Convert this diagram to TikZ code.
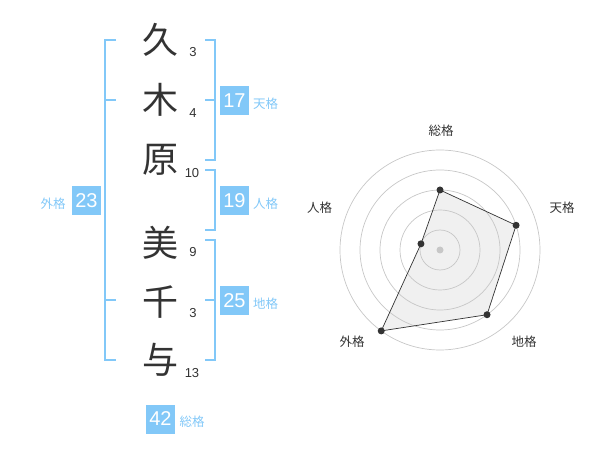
\documentclass[tikz,border=0pt]{standalone}
\usepackage{fontspec}
\setmainfont{Liberation Sans}
\newfontfamily\cjk{Noto Sans CJK JP}
\definecolor{kakublue}{HTML}{82C8F8}
\definecolor{inkgray}{HTML}{333333}
\begin{document}
\begin{tikzpicture}[x=1pt, y=-1pt,
        kanji/.style={inner sep=0pt, text=inkgray, font=\cjk\fontsize{36}{36}\selectfont},
        stroke/.style={inner sep=0pt, text=inkgray, font=\fontsize{13}{13}\selectfont},
        kakubox/.style={fill=kakublue, text=white, minimum size=29pt, inner sep=0pt, font=\fontsize{20}{20}\selectfont},
        kakulabel/.style={inner sep=0pt, text=kakublue, font=\cjk\fontsize{12.5}{12.5}\selectfont},
        bracket/.style={draw=kakublue, line width=2pt},
        ring/.style={draw=black!22, line width=0.7pt},
        axislabel/.style={inner sep=0pt, text=inkgray, font=\cjk\fontsize{12.5}{12.5}\selectfont},
        dot/.style={circle, fill=inkgray, inner sep=0pt, minimum size=7pt}
    ]
        \useasboundingbox (0,0) rectangle (600,470);

        % 名前
        \node[kanji] (c1) at (160,40) {久};
        \node[kanji] (c2) at (160,100) {木};
        \node[kanji] (c3) at (160,160) {原};
        \node[kanji] (c4) at (160,243) {美};
        \node[kanji] (c5) at (160,302) {千};
        \node[kanji] (c6) at (160,360) {与};

        % 画数
        \node[stroke] (s1) at (193,52) {3};
        \node[stroke] (s2) at (193,113) {4};
        \node[stroke] (s3) at (192,173) {10};
        \node[stroke] (s4) at (193,252) {9};
        \node[stroke] (s5) at (193,313) {3};
        \node[stroke] (s6) at (192,373) {13};

        % 括弧
        \draw[bracket] (116,40) -- (105,40) -- (105,360) -- (116,360);
        \draw[bracket] (105,100) -- (116,100);
        \draw[bracket] (105,300) -- (116,300);
        \draw[bracket] (205,40) -- (215,40) -- (215,160) -- (205,160);
        \draw[bracket] (205,100) -- (215,100);
        \draw[bracket] (205,170) -- (215,170) -- (215,230) -- (205,230);
        \draw[bracket] (205,240) -- (215,240) -- (215,360) -- (205,360);
        \draw[bracket] (205,300) -- (215,300);

        % 五格
        \node[kakubox] (ten) at (234.5,100.5) {17};
        \node[kakulabel] (tenl) at (265.5,104) {天格};
        \node[kakubox] (jin) at (234.5,200.5) {19};
        \node[kakulabel] (jinl) at (265.5,204) {人格};
        \node[kakubox] (chi) at (234.5,300.5) {25};
        \node[kakulabel] (chil) at (265.5,304) {地格};
        \node[kakubox] (gai) at (86.5,200.5) {23};
        \node[kakulabel] (gail) at (53,204) {外格};
        \node[kakubox] (sou) at (160.5,419) {42};
        \node[kakulabel] (soul) at (192,422) {総格};

        % レーダーチャート
        \begin{scope}[shift={(440,250)}, y=1pt]
            \coordinate (psou) at (90:60);
            \coordinate (pten) at (18:80);
            \coordinate (pchi) at (-54:80);
            \coordinate (pgai) at (-126:100);
            \coordinate (pjin) at (162:20);

            \fill[black!6] (psou) -- (pten) -- (pchi) -- (pgai) -- (pjin) -- cycle;

            \draw[ring] (0,0) circle (20);
            \draw[ring] (0,0) circle (40);
            \draw[ring] (0,0) circle (60);
            \draw[ring] (0,0) circle (80);
            \draw[ring] (0,0) circle (100);
            \fill[black!22] (0,0) circle (3.5);

            \draw[inkgray, line width=0.7pt]
                (psou) -- (pten) -- (pchi) -- (pgai) -- (pjin) -- cycle;

            \node[dot] at (psou) {};
            \node[dot] at (pten) {};
            \node[dot] at (pchi) {};
            \node[dot] at (pgai) {};
            \node[dot] at (pjin) {};

            \node[axislabel] (asou) at (1,119) {総格};
            \node[axislabel] (aten) at (122,42) {天格};
            \node[axislabel] (achi) at (84,-92) {地格};
            \node[axislabel] (agai) at (-88,-92) {外格};
            \node[axislabel] (ajin) at (-120.5,42) {人格};
        \end{scope}
    \end{tikzpicture}
\end{document}
